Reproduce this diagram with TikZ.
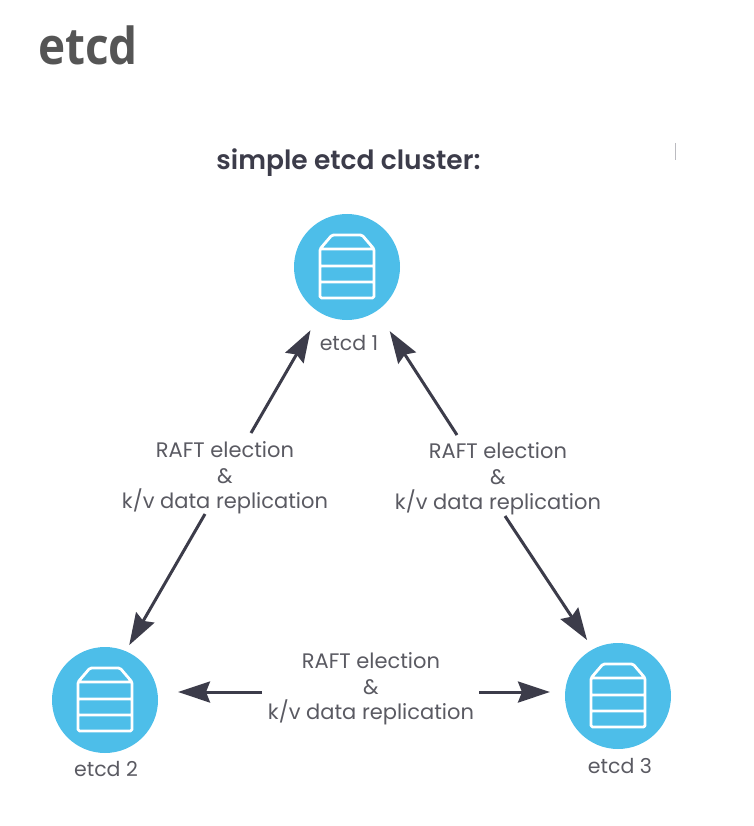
\documentclass[tikz,border=0pt]{standalone}
\usepackage{fontspec}
\setmainfont{Poppins}
\newfontfamily\titlefont[FakeStretch=0.9]{Open Sans}
\newfontfamily\subfont{Poppins SemiBold}
\usetikzlibrary{arrows.meta}
\definecolor{disc}{HTML}{4DBEE9}
\definecolor{ink}{HTML}{3C3C4A}
\definecolor{labelgrey}{HTML}{5A5A62}
\definecolor{titlegrey}{HTML}{555555}
\tikzset{
  x=1pt,y=-1pt,
  every node/.style={inner sep=0pt,outer sep=0pt},
  discnode/.style={circle,fill=disc,minimum size=106pt},
  capt/.style={text=labelgrey,font=\fontsize{20.5}{20.5}\selectfont},
  rep/.style={text=labelgrey,align=center,font=\fontsize{21}{25.5}\selectfont},
  conn/.style={draw=ink,line width=3pt,-{Stealth[length=32pt,width=21pt,inset=4pt]}},
  dbicon/.pic={
    \draw[white,line width=2.8pt,line join=round,rounded corners=1.5pt]
      (-27,-18) -- (-15,-32) -- (15,-32) -- (27,-18) -- (27,31) -- (-27,31) -- cycle
      (-27,-18) -- (27,-18) (-27,-1) -- (27,-1) (-27,15) -- (27,15);
  }
}
\begin{document}
\begin{tikzpicture}
\useasboundingbox (0,0) rectangle (753,826);
\node[anchor=base west,text=titlegrey,font=\titlefont\bfseries\fontsize{51}{51}\selectfont] (title) at (38,65) {etcd};
\node[text=ink,font=\subfont\fontsize{26.5}{26.5}\selectfont] (sub) at (348.5,163) {simple etcd cluster:};

\node[discnode] (c1) at (347,267) {};
\node[discnode] (c2) at (105,700) {};
\node[discnode] (c3) at (618,696) {};
\pic at (c1) {dbicon};
\pic at (c2) {dbicon};
\pic at (c3) {dbicon};

\node[capt] (n1) at (349,343) {etcd 1};
\node[capt] (n2) at (106,769) {etcd 2};
\node[capt] (n3) at (620,766) {etcd 3};

\node[rep] (l12) at (225,478) {RAFT election\\\&\\k/v data replication};
\node[rep] (l13) at (498,479) {RAFT election\\\&\\k/v data replication};
\node[rep] (l23) at (371,689) {RAFT election\\\&\\k/v data replication};

\coordinate (a12) at (251,433);
\coordinate (b12) at (205,514);
\coordinate (a13) at (457,435);
\coordinate (b13) at (505,516);
\coordinate (a23) at (262,692);
\coordinate (b23) at (479,692);

\draw[conn,shorten >=20pt] (a12) -- (c1.-120);
\draw[conn,shorten >=24pt] (a13) -- (c1.-56);
\draw[conn,shorten >=7pt] (b12) -- (c2.67);
\draw[conn,shorten >=11pt] (b13) -- (c3.118);
\draw[conn,shorten >=20pt] (a23) -- (c2.east |- a23);
\draw[conn,shorten >=15pt] (b23) -- (c3.west |- b23);

\coordinate (m1) at (675,143);
\coordinate (m2) at (675,160);
\draw[draw=ink!35,line width=1pt] (m1) -- (m2);
\end{tikzpicture}
\end{document}
